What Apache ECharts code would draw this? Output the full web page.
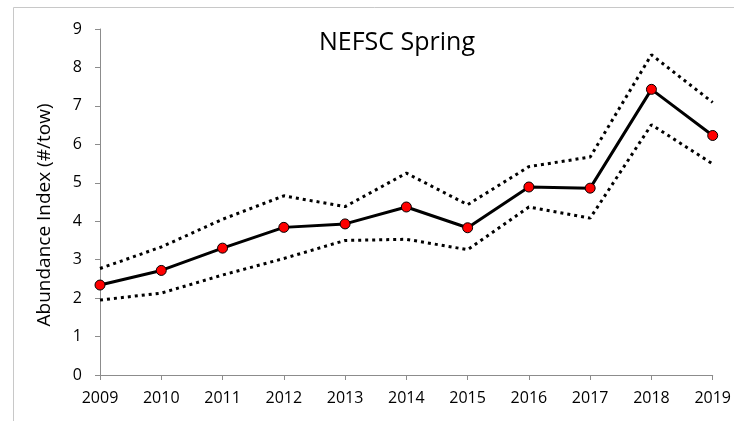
<!DOCTYPE html>
<html>
<head>
<meta charset="utf-8">
<script src="https://cdn.jsdelivr.net/npm/echarts@6/dist/echarts.min.js"></script>
<style>
  html, body { margin: 0; padding: 0; background: #fff; }
  #chart { width: 734px; height: 421px; }
</style>
</head>
<body>
<div id="chart"></div>
<script>
// ==========================================
// DATA
// ==========================================
const years = ['2009', '2010', '2011', '2012', '2013', '2014', '2015', '2016', '2017', '2018', '2019'];
const abundance = [2.34, 2.72, 3.30, 3.84, 3.93, 4.37, 3.83, 4.89, 4.86, 7.43, 6.23];
const upperCI = [2.77, 3.33, 4.05, 4.66, 4.38, 5.25, 4.43, 5.42, 5.67, 8.33, 7.09];
const lowerCI = [1.95, 2.13, 2.60, 3.03, 3.50, 3.53, 3.26, 4.37, 4.08, 6.51, 5.49];

const font = '"Open Sans", sans-serif';
const axisGray = '#8c8c8c';

const chart = echarts.init(document.getElementById('chart'));

const dotted = {
  color: '#000',
  width: 3,
  type: [3, 4],
  cap: 'butt'
};

chart.setOption({
  backgroundColor: '#fff',
  animation: false,
  title: {
    text: 'NEFSC Spring',
    left: 392,
    top: 25,
    textAlign: 'center',
    textStyle: { fontFamily: font, fontSize: 25, fontWeight: 'normal', color: '#000' }
  },
  grid: { left: 100, right: 21, top: 29, bottom: 46 },
  graphic: [
    // outer chart frame (partly cropped in the original)
    {
      type: 'rect',
      shape: { x: 13.5, y: 7.5, width: 900, height: 600 },
      style: { fill: 'none', stroke: '#c8c8c8', lineWidth: 1 },
      silent: true,
      z: -1
    },
    // y axis title, sits a little below the plot's middle
    {
      type: 'text',
      x: 45,
      y: 215,
      rotation: Math.PI / 2,
      style: {
        text: 'Abundance Index (#/tow)',
        fontFamily: font,
        fontSize: 19,
        fill: '#000',
        align: 'center',
        verticalAlign: 'middle'
      }
    }
  ],
  xAxis: {
    type: 'category',
    data: years,
    boundaryGap: false,
    axisLine: { lineStyle: { color: axisGray, width: 1 } },
    axisTick: { alignWithLabel: true, length: 5, lineStyle: { color: axisGray } },
    axisLabel: { fontFamily: font, fontSize: 16, color: '#000', margin: 15 }
  },
  yAxis: {
    type: 'value',
    min: 0,
    max: 9,
    interval: 1,
    axisLine: { show: true, lineStyle: { color: axisGray, width: 1 } },
    axisTick: { show: true, length: 5, lineStyle: { color: axisGray } },
    axisLabel: { fontFamily: font, fontSize: 16, color: '#000', margin: 18 },
    splitLine: { show: false }
  },
  series: [
    {
      name: 'Upper',
      type: 'line',
      data: upperCI,
      symbol: 'none',
      lineStyle: dotted,
      z: 2
    },
    {
      name: 'Lower',
      type: 'line',
      data: lowerCI,
      symbol: 'none',
      lineStyle: dotted,
      z: 2
    },
    {
      name: 'Abundance',
      type: 'line',
      data: abundance,
      symbol: 'circle',
      symbolSize: 10,
      lineStyle: { color: '#000', width: 3 },
      itemStyle: { color: '#ff0000', borderColor: '#000', borderWidth: 1 },
      z: 3
    }
  ]
});
</script>
</body>
</html>
